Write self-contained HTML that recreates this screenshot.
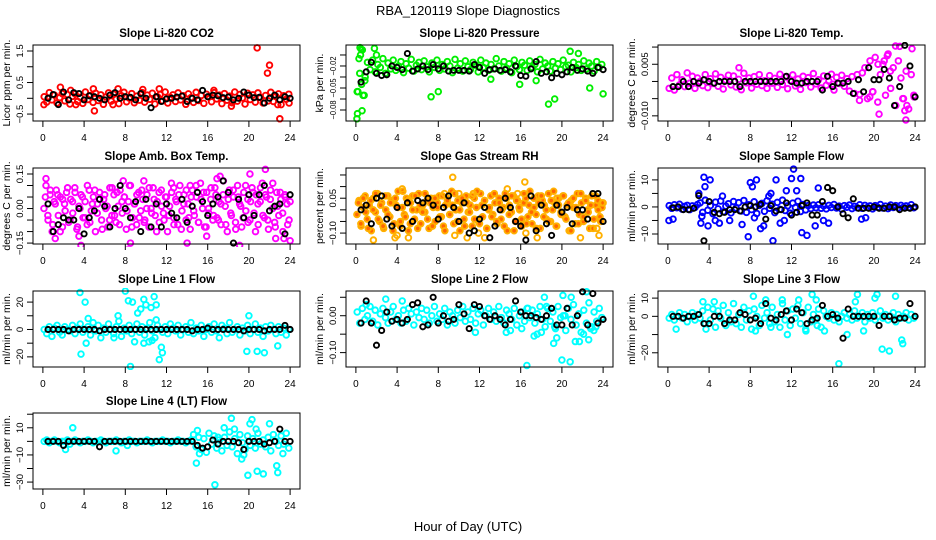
<!DOCTYPE html>
<html><head><meta charset="utf-8"><style>
body{margin:0;background:#fff;}
svg{display:block;font-family:"Liberation Sans",Arial,sans-serif;}
</style></head><body>
<svg id="chart" width="936" height="540" viewBox="0 0 936 540">
<rect x="0" y="0" width="936" height="540" fill="#fff"/>
<text x="468" y="15" text-anchor="middle" font-size="13">RBA_120119  Slope Diagnostics</text>
<text x="468" y="531" text-anchor="middle" font-size="13">Hour of Day (UTC)</text>
</svg>
<script>
const hourTicks=[0,4,8,12,16,20,24];
// CO2
const co2Band=[0.05,-0.12,0.18,-0.05,0.1,-0.15,0.02,0.15,-0.08,0.12,-0.18,0.06,0.14,-0.1,0.03,-0.16,0.2,-0.04,0.09,-0.13,0.16,-0.07,0.11,-0.19,0.04,0.17,-0.09,0.13,-0.02,-0.17,0.08,0.19,-0.11,0.01,0.15,-0.14,0.07,-0.06,0.18,-0.12,0.1,-0.03,0.16,-0.18,0.05,0.12,-0.08,0.2,-0.15,0.03,0.11,-0.1,0.17,-0.05,0.08,-0.19,0.14,0.02,-0.13,0.19,-0.07,0.09,-0.16,0.13,0.04,-0.11,0.18,-0.02,0.1,-0.17,0.15,-0.06,0.07,-0.14,0.2,-0.09,0.12,0.01,-0.18,0.16,-0.04,0.11,-0.12,0.17,0.03,-0.15,0.09,-0.08,0.19,-0.1,0.06,0.14,-0.2,0.08,-0.03,0.13];
const co2OutHours=[0.1,1.7,2.7,3.2,4.9,5.0,6.8,7.3,9.7,11.3,16.6,18.3,20.8,21.8,22.0,22.8,23.0,23.9];
const co2OutVals=[-0.2,0.35,0.25,-0.2,0.3,-0.4,-0.2,0.3,0.28,0.3,0.25,-0.25,1.6,0.8,1.05,-0.2,-0.65,-0.15];
const co2Black=[0.0,0.12,-0.2,0.2,-0.05,0.18,0.15,-0.05,0.08,0.05,0.0,-0.05,0.1,0.18,0.0,0.05,0.03,-0.05,0.15,0.0,-0.3,0.05,-0.1,-0.02,0.0,0.04,0.07,-0.1,0.0,-0.05,0.25,0.05,0.1,0.08,0.02,0.04,-0.05,0.0,0.2,0.1,0.02,0.03,-0.15,0.0,0.1,-0.05,0.05,0.0];
// Pressure
const presBand=[-0.055,-0.03,0.002,-0.04,-0.015,-0.025,-0.012,-0.028,-0.018,-0.022,-0.01,-0.03,-0.016,-0.024,-0.012,-0.026,-0.02,-0.014,-0.029,-0.017,-0.023,-0.011,-0.027,-0.019,-0.015,-0.025,-0.013,-0.021,-0.028,-0.016,-0.022,-0.012,-0.026,-0.018,-0.024,-0.014,-0.02,-0.029,-0.011,-0.023,-0.017,-0.027,-0.013,-0.021,-0.025,-0.015,-0.019,-0.028,-0.012,-0.022,-0.016,-0.026,-0.018,-0.024,-0.01,-0.02,-0.027,-0.014,-0.023,-0.017,-0.029,-0.012,-0.021,-0.025,-0.015,-0.019,-0.026,-0.013,-0.022,-0.018,-0.028,-0.011,-0.024,-0.016,-0.02,-0.027,-0.014,-0.023,-0.017,-0.025,-0.012,-0.021,-0.019,-0.028,-0.015,-0.022,-0.018,-0.026,-0.013,-0.024,-0.016,-0.02,-0.027,-0.014,-0.022,-0.018];
const presOutHours=[0.1,0.15,0.2,0.3,0.4,0.5,0.6,0.7,0.8,0.9,1.8,2.0,7.3,8.0,13.1,15.9,17.5,18.7,19.3,20.8,21.6,22.7,24.0,0.55,0.45];
const presOutVals=[-0.092,-0.085,-0.055,-0.01,0.005,0.003,-0.081,-0.06,-0.06,-0.035,0.004,-0.005,-0.062,-0.055,-0.038,-0.045,-0.04,-0.072,-0.065,0.0,-0.003,-0.05,-0.058,-0.045,-0.005];
const presBlack=[-0.042,-0.028,-0.015,-0.03,-0.033,-0.032,-0.02,-0.022,-0.025,-0.003,-0.027,-0.024,-0.02,-0.025,-0.018,-0.024,-0.02,-0.027,-0.026,-0.026,-0.026,-0.027,-0.018,-0.022,-0.03,-0.025,-0.024,-0.026,-0.025,-0.028,-0.02,-0.033,-0.034,-0.024,-0.014,-0.03,-0.028,-0.036,-0.03,-0.032,-0.028,-0.022,-0.026,-0.024,-0.027,-0.03,-0.022,-0.025];
// Temp
const tempBand=[-0.002,0.001,-0.0025,0.002,-0.001,0.0005,-0.0015,0.0025,-0.0005,0.0015,-0.002,0.001,0.0,-0.0012,0.002,-0.0018,0.0008,-0.0006,0.0022,-0.0014,0.0012,-0.0022,0.0004,0.0018,-0.001,0.0016,-0.0016,0.0006,-0.0024,0.0024,-0.0004,0.001,-0.0019,0.0014,-0.0008,0.002,-0.0012,0.0002,-0.002,0.0017,-0.0005,0.0009,-0.0017,0.0021,-0.0009,0.0013,-0.0021,0.0003,0.0019,-0.0013,0.0007,-0.0023,0.0015,-0.0003,0.0011,-0.0016,0.0023,-0.0007,0.0005,-0.0019,0.0016,-0.0011,0.0001,0.0021,-0.0025,0.0012,-0.0006,0.0018,-0.0014,0.0008,-0.0028,0.0014,-0.0035,0.002,-0.0038,0.0025,0.004,-0.005,0.006,-0.003,0.007,-0.006,0.002,0.005,-0.004,0.008,-0.002,0.004,-0.007,0.006,0.001,-0.005,0.003,-0.008,0.002,-0.004];
const tempOutHours=[6.9,16.0,18.6,19.6,20.4,20.5,21.0,21.3,21.6,22.1,22.5,23.0,23.1,23.2,23.7,23.9,19.9,22.8];
const tempOutVals=[0.004,-0.0008,-0.0055,-0.0045,0.005,-0.0095,0.006,0.0075,0.003,0.0103,0.0102,-0.0085,-0.0112,-0.007,0.0095,-0.0045,-0.003,-0.005];
const tempBlack=[-0.0015,-0.0015,0.0,-0.0015,0.0,-0.0005,0.0005,0.0,-0.0005,0.0,0.0,0.0,0.0,-0.0015,0.0,0.0,0.0,0.0,0.0,0.0,0.0,0.0,0.0015,0.0,-0.0005,-0.0005,0.0,0.0,0.0,-0.0025,0.0015,-0.0015,-0.0005,-0.0005,0.0,-0.0035,0.0005,-0.003,0.004,0.0005,0.0005,0.0035,0.001,-0.007,-0.0015,0.0105,0.0045,-0.0045];
// Amb box temp
const ambBand=[0.0,0.1,-0.05,0.06,-0.1,0.03,0.08,-0.03,0.05,-0.08,0.02,0.07,-0.06,0.04,-0.02,0.09,-0.09,0.01,0.06,-0.04,0.03,-0.07,0.08,-0.01,0.05,-0.1,0.02,0.07,-0.05,0.04,0.0,-0.08,0.09,-0.03,0.06,-0.06,0.01,0.08,-0.02,0.05,-0.09,0.03,0.1,-0.04,0.02,-0.07,0.07,-0.01,0.04,-0.05,0.06,-0.08,0.0,0.09,-0.03,0.03,-0.06,0.08,-0.02,0.05,-0.1,0.01,0.07,-0.04,0.04,-0.07,0.1,-0.01,0.06,-0.05,0.02,-0.09,0.08,-0.03,0.05,-0.06,0.11,0.0,-0.08,0.07,-0.02,0.04,-0.05,0.09,-0.04,0.03,-0.07,0.06,0.01,-0.1,0.08,-0.03,0.05,-0.06,0.1,0.02,-0.08,0.07,-0.01,0.04,-0.05,0.09,-0.02,0.06,-0.07,0.03,0.11,-0.04,0.05,-0.09,0.08,0.0,-0.06,0.07,-0.03,0.04,-0.1,0.06,0.02,-0.05];
const ambBandB=[0.05,-0.03,0.08,-0.07,0.02,0.06,-0.1,0.04,-0.01,0.09,-0.05,0.03,0.07,-0.08,0.0,0.05,-0.04,0.1,-0.06,0.02,0.08,-0.02,0.04,-0.09,0.06,0.01,-0.05,0.09,-0.03,0.07,-0.07,0.03,0.05,-0.01,0.1,-0.08,0.02,0.06,-0.04,0.08,-0.06,0.0,0.09,-0.02,0.04,-0.1,0.07,0.01,-0.05,0.05,-0.03,0.11,-0.07,0.03,0.06,-0.09,0.02,0.08,-0.04,0.05,-0.01,0.1,-0.06,0.04,0.07,-0.08,0.0,0.09,-0.03,0.06,-0.05,0.02,0.12,-0.07,0.04,-0.02,0.08,-0.09,0.05,0.01,-0.04,0.1,-0.06,0.03,0.07,-0.1,0.02,0.09,-0.03,0.06,-0.05,0.04,0.11,-0.08,0.01,0.07,-0.02,0.05,-0.07,0.03];
const ambOutHours=[0.3,1.2,3.5,3.7,7.8,8.2,8.5,9.8,14.0,14.3,15.9,16.9,17.2,19.1,20.1,21.6,22.6,23.4,24.0,4.5,12.7];
const ambOutVals=[0.13,-0.13,-0.12,-0.16,0.12,-0.18,-0.15,0.12,-0.15,0.1,-0.12,0.13,0.14,-0.16,0.15,0.17,-0.13,-0.13,-0.14,0.08,0.09];
const ambBlack=[0.02,-0.1,-0.07,-0.04,-0.05,-0.05,0.0,-0.11,-0.04,-0.01,0.04,0.01,-0.08,0.0,0.1,0.0,-0.04,0.03,-0.1,0.04,-0.08,0.02,-0.08,0.02,-0.02,-0.04,0.04,-0.06,0.01,0.07,0.03,-0.03,0.02,0.05,0.12,0.07,-0.15,0.04,-0.04,0.06,-0.03,0.06,0.1,-0.01,0.01,0.02,-0.11,0.06];
// RH
const rhBand=[-0.02,0.04,-0.07,0.01,0.06,-0.04,0.02,-0.09,0.05,-0.01,0.07,-0.05,0.03,-0.08,0.0,0.06,-0.03,0.04,-0.06,0.02,0.08,-0.07,0.01,-0.02,0.05,-0.09,0.03,0.06,-0.04,0.0,0.07,-0.06,0.02,-0.01,0.04,-0.08,0.05,0.01,-0.05,0.03,0.06,-0.03,-0.07,0.02,0.05,-0.02,0.08,-0.06,0.0,0.04,-0.09,0.03,-0.04,0.06,-0.01,0.02,-0.07,0.05,0.01,-0.05,0.07,-0.03,0.04,-0.08,0.0,0.06,-0.02,0.03,-0.06,0.05,-0.04,0.01,0.07,-0.09,0.02,-0.01,0.06,-0.05,0.04,0.0,-0.07,0.03,0.05,-0.03,0.08,-0.06,0.01,-0.02,0.06,-0.08,0.04,0.02,-0.04,0.07,-0.05,0.0,0.03,-0.07,0.05,-0.01,0.06,-0.03,0.02,-0.09,0.04,0.01,-0.06,0.07,-0.02,0.03,-0.05,0.05,0.0,-0.08,0.06,-0.04,0.02,0.04,-0.03,0.01];
const rhBandB=[0.03,-0.06,0.05,-0.01,-0.08,0.04,0.0,0.07,-0.04,0.02,-0.07,0.06,-0.02,0.03,-0.09,0.05,0.01,-0.05,0.08,-0.03,0.04,-0.06,0.0,0.06,-0.08,0.02,-0.01,0.07,-0.04,0.03,-0.07,0.05,0.01,-0.03,0.06,-0.09,0.04,-0.02,0.02,0.07,-0.05,0.0,0.05,-0.07,0.03,-0.01,0.06,-0.04,0.08,-0.06,0.02,0.04,-0.08,0.01,-0.03,0.07,-0.05,0.03,0.0,-0.07,0.05,-0.02,0.06,-0.09,0.04,0.01,-0.04,0.07,-0.06,0.02,-0.01,0.05,-0.08,0.03,0.06,-0.03,0.0,-0.05,0.04,0.08,-0.07,0.02,-0.02,0.06,-0.04,0.03,-0.09,0.05,0.01,-0.06,0.07,-0.03,0.04,-0.01,0.02,-0.08,0.06,0.0,-0.05,0.03];
const rhOutHours=[1.7,3.8,4.0,4.5,5.1,8.6,9.4,9.6,10.0,10.8,11.4,12.5,14.7,15.7,16.4,16.5,17.6,19.5,21.8,23.4,23.6,23.9,11.9];
const rhOutVals=[-0.13,-0.12,-0.11,0.09,-0.12,0.07,0.14,-0.11,0.07,-0.12,0.07,-0.12,0.09,0.07,0.12,-0.1,-0.12,0.05,-0.12,-0.08,-0.11,0.03,-0.1];
const rhBlack=[0.0,0.02,-0.06,0.05,0.06,-0.04,-0.07,0.01,-0.08,0.03,-0.05,0.04,0.03,0.05,0.02,-0.04,0.01,0.06,0.01,-0.05,0.03,-0.1,-0.09,-0.04,0.01,-0.12,-0.07,0.0,0.05,0.01,-0.05,-0.07,-0.13,0.06,-0.09,0.02,-0.06,-0.11,0.02,-0.01,0.01,-0.06,0.0,0.0,-0.04,0.07,0.07,-0.05];
// Sample flow
const sfBand=[0.5,-0.5,0.8,-0.3,1.0,-0.8,0.2,0.6,-1.0,0.4,-0.2,0.9,1.5,-2,2.5,-1.2,0.5,-2.5,1.8,-0.7,2.2,-1.8,0.3,1.2,-2.2,2.0,-0.4,1.6,-1.5,2.4,-2.0,0.8,-1.0,1.9,-2.4,0.6,1.3,-1.6,2.3,-0.5,1.0,-2.1,1.7,-0.9,2.5,-1.3,0.4,-2.3,1.4,-0.2,2.1,-1.7,0.9,-1.1,0.5,-0.6,0.7,-0.3,0.8,-0.5,0.4,-0.7,0.6,-0.2,0.9,-0.4,0.3,-0.8,0.5,-0.1,0.7,-0.6,0.2,-0.3,0.8,-0.5,0.6,-0.2,0.4,-0.7,0.5,-0.1,0.9,-0.4,0.3,-0.6,0.7,-0.2,0.5,-0.3,0.6,-0.1,0.4,-0.2,0.8,-0.3];
const sfOutHours=[0.1,0.5,3.0,3.3,3.5,3.6,3.9,4.1,4.6,5.0,5.3,6.0,7.2,7.8,8.0,8.2,8.4,8.6,9.0,9.3,9.8,10.2,10.5,10.9,11.3,11.5,12.0,12.2,12.5,12.9,13.0,13.5,14.3,14.6,15.1,15.6,18.8,19.2,3.2,10.0];
const sfOutVals=[-5,-4.5,5,-3.5,11,7.5,-7,10,-5,-6,4,-5,-6.5,-11,9,7.5,-4,10,-8,-7,4,-12.5,10,-6,-5,6,10.5,14,6,10.5,-9.5,-10.5,-7,7,-5,-6,-4.5,-4,-6,5];
const sfBlack=[-0.3,0,-1,-1,-0.5,4.2,-12.5,2,-2,-2.5,-2,-1,-1,-1.5,0,0.5,0,1,-4.5,0.5,-1.5,-1,1.5,-3,-2,0.5,1.5,-3,-3,2,7.2,6,0,-2.5,-4,3,-0.5,-0.5,-0.5,0,-0.5,-0.5,0,0,-1,-0.5,-0.5,0];
// Line 1
const l1Band=[0,-3,2,-5,1,3,-2,-4,2,0,-1,3,-3,1,4,-2,0,2,-4,5,-1,3,-6,1,-2,4,0,-3,2,6,-5,1,-1,3,-3,0,4,-2,2,-4,1,5,-1,-6,3,0,-2,2,-3,4,1,-1,3,-4,0,2,-2,5,-3,1,-1,3,-5,0,2,-2,4,-1,-6,3,1,-3,5,-2,0,2,-4,1,-1,3,-3,0,4,-2,1,-5,2,-1,3,0,-3,2,-2,1,-4,0];
const l1OutHours=[3.6,4.1,4.2,3.7,4.4,6.9,7.3,8.0,8.3,8.5,8.7,8.9,9.2,9.5,9.8,10.0,10.3,10.5,10.8,11.0,11.3,11.5,11.6,11.0,19.8,20.0,20.8,21.5,22.8,9.8,10.6];
const l1OutVals=[27,20,-10,-18,8,-6,10,28,21,-27,20,-9,12,15,22,18,-9,16,24,18,-22,-13,-17,7,-16,10,-16,-17,-12,-10,-8];
const l1Black=[0,0,0,0,-1,0,0,0,0,0,-1,0,0,0,0,0,0,0,0,0,0,0,0,0,0,0,0,0,-1,0,0,1,0,0,0,0,0,0,-1,0,0,0,-1,0,0,0,3,0];
// Line 2
const l2Band=[0.01,-0.02,0.02,-0.01,0.0,0.025,-0.015,0.015,-0.025,0.005,0.02,-0.005,-0.02,0.01,0.025,-0.01,0.0,-0.02,0.015,-0.015,0.02,0.005,-0.025,0.01,-0.005,0.02,-0.01,0.015,-0.02,0.0,0.025,-0.015,0.005,-0.01,0.02,-0.025,0.01,0.0,-0.02,0.015,-0.005,0.025,-0.015,0.01,-0.01,0.02,-0.02,0.005,0.015,-0.025,0.0,0.02,-0.01,0.01,-0.015,0.025,-0.005,-0.02,0.015,0.005,-0.01,0.02,-0.025,0.0,0.01,-0.015,0.02,-0.005,0.015,-0.02,0.005,0.025,-0.01,-0.03,0.02,-0.015,0.01,-0.035,0.025,-0.005,0.0,-0.04,0.02,-0.01,0.03,-0.025,0.005,-0.045,0.015,-0.02,0.035,-0.03,0.01,-0.015,0.02,-0.005];
const l2OutHours=[1.0,2.9,4.5,11.6,14.6,15.0,16.1,16.6,17.3,17.6,18.0,18.3,18.5,19.2,19.3,19.5,20.0,20.1,20.3,20.8,20.9,21.3,21.7,22.1,22.4,22.6,22.8,23.1,23.3,16.7];
const l2OutVals=[0.03,0.045,0.04,-0.045,-0.045,-0.04,-0.035,-0.135,-0.055,-0.05,-0.045,0.05,0.025,-0.075,-0.03,-0.06,-0.12,0.055,0.0,-0.125,0.05,-0.07,-0.07,-0.05,0.065,-0.065,-0.035,-0.04,-0.03,0.02];
const l2Black=[-0.02,0.04,-0.02,-0.08,-0.04,0.01,-0.015,-0.01,-0.02,-0.01,0.03,0.035,-0.03,-0.025,0.05,-0.02,0.0,-0.015,-0.01,0.03,0.005,-0.035,0.03,0.025,0.0,-0.01,0.0,-0.01,-0.025,-0.01,0.04,0.01,0.0,0.0,-0.005,-0.01,0.0,0.02,-0.025,-0.025,0.02,-0.025,0.0,0.065,-0.025,0.06,-0.02,-0.01];
// Line 3
const l3Band=[-1,1,-2,0,2,-1,1,-3,0,2,-2,1,-1,3,-4,5,-2,4,-6,3,-1,6,-5,2,-3,7,-4,1,-6,5,-2,3,-7,4,0,-5,6,-1,2,-4,5,-3,1,-6,7,-2,3,-5,4,-1,6,-4,2,-7,5,-3,1,-2,4,-6,3,0,-1,2,-2,1,-3,0,2,-1,1,-2,3,-1,0,2,-3,1,-1,2,-2,0,3,-1,1,-2,0,2,-3,1,-1,0,2,-2,1,-1];
const l3OutHours=[0.8,3.4,3.7,4.5,8.3,8.5,9.5,10.0,11.1,11.6,12.7,13.4,14.0,14.4,14.5,16.6,17.4,18.4,19.0,20.1,20.3,20.8,21.5,22.1,22.7,22.8,18.2,15.2];
const l3OutVals=[-7,8,-7,8,11,-8,9,-6,9,-10,9,-8,12,9,-5,-26,-10,12,-8,10,12,-18,-19,11,-13,-15,8,-8];
const l3Black=[0,0,-1,0,0,1,-4,-4,0,0,-4,-2,-2,2,1,-2,-1,-4,7,-1,-2,1,3,-2,4,2,-4,-2,-1,6,0,1,-1,-12,4,0,0,0,0,0,-5,0,0,-2,-1,-1,7,0];
// Line 4
const l4Band=[0,1,-1,0,1,0,-1,0,0,1,-2,0,1,0,-1,0,0,1,0,-1,0,0,1,0,-1,0,0,0,1,0,-1,0,0,1,0,0,-1,0,0,0,1,0,-1,0,0,0,1,0,0,-1,0,0,1,0,0,-1,0,1,5,-4,3,-6,2,-8,6,-2,4,-5,1,-7,3,-3,7,-4,2,-9,5,-1,-6,4,-3,2,-5,6,-2,1,-4,3,-7,5,0,-3,4,-2,6,-5];
const l4OutHours=[2.9,2.2,7.1,8.2,14.9,15.0,15.2,17.6,18.3,18.6,19.3,19.5,19.9,20.1,20.3,20.8,20.7,21.4,22.0,22.7,22.8,23.3,16.7,17.0];
const l4OutVals=[10,-6,-7,-3,-16,8,-9,10,17,9,-13,-10,-25,13,16,-22,9,-24,13,-18,-23,-9,-32,3];
const l4Black=[0,0,0,-3,0,0,0,0,0,0,-4,0,0,0,0,0,0,0,0,0,0,0,0,0,0,0,0,0,0,-3,-5,-4,1,-2,0,0,0,-1,-6,0,0,0,-2,-1,0,9,0,0];

const NS="http://www.w3.org/2000/svg";
const svg=document.getElementById('chart');
function mk(tag,attrs,parent){const e=document.createElementNS(NS,tag);for(const k in attrs)e.setAttribute(k,attrs[k]);(parent||svg).appendChild(e);return e;}

const colL=[33,346,658], rowT=[45,168,291,413], boxW=267, boxH=76;
const panels=[
 {name:'co2',title:'Slope Li-820 CO2',ylab:'Licor ppm per min.',c:0,r:0,yTop:1.69,yBot:-0.72,ticks:[-0.5,0,0.5,1,1.5],labels:['-0.5','','0.5','','1.5'],col:'#ff0000',fill:'none',bands:[co2Band],oh:co2OutHours,ov:co2OutVals,blk:co2Black},
 {name:'pressure',title:'Slope Li-820 Pressure',ylab:'kPa per min.',c:1,r:0,yTop:0.0086,yBot:-0.095,ticks:[-0.08,-0.065,-0.05,-0.035,-0.02,-0.005],labels:['-0.08','','-0.05','','-0.02',''],col:'#00ee00',fill:'none',bands:[presBand],oh:presOutHours,ov:presOutVals,blk:presBlack,fs:8,tl:19},
 {name:'temp',title:'Slope Li-820 Temp.',ylab:'degrees C per min.',c:2,r:0,yTop:0.0106,yBot:-0.0115,ticks:[-0.01,-0.005,0,0.005,0.01],labels:['-0.010','','','0.005',''],col:'#ff00ff',fill:'none',bands:[tempBand],oh:tempOutHours,ov:tempOutVals,blk:tempBlack},
 {name:'amb-box-temp',title:'Slope Amb. Box Temp.',ylab:'degrees C per min.',c:0,r:1,yTop:0.176,yBot:-0.154,ticks:[-0.15,-0.1,-0.05,0,0.05,0.1,0.15],labels:['-0.15','','','0.00','','','0.15'],col:'#ff00ff',fill:'none',bands:[ambBand,ambBandB],oh:ambOutHours,ov:ambOutVals,blk:ambBlack},
 {name:'gas-stream-rh',title:'Slope Gas Stream RH',ylab:'percent per min.',c:1,r:1,yTop:0.18,yBot:-0.147,ticks:[-0.1,-0.05,0,0.05,0.1,0.15],labels:['-0.10','','','0.05','',''],col:'#ffb000',fill:'#ff6600',bands:[rhBand,rhBandB],oh:rhOutHours,ov:rhOutVals,blk:rhBlack},
 {name:'sample-flow',title:'Slope Sample Flow',ylab:'ml/min per min.',c:2,r:1,yTop:14.4,yBot:-13.7,ticks:[-10,-5,0,5,10],labels:['-10','','0','','10'],col:'#0000ff',fill:'none',bands:[sfBand],oh:sfOutHours,ov:sfOutVals,blk:sfBlack},
 {name:'line1-flow',title:'Slope Line 1 Flow',ylab:'ml/min per min.',c:0,r:2,yTop:28.1,yBot:-27.4,ticks:[-20,-10,0,10,20],labels:['-20','','0','','20'],col:'#00ffff',fill:'none',bands:[l1Band],oh:l1OutHours,ov:l1OutVals,blk:l1Black},
 {name:'line2-flow',title:'Slope Line 2 Flow',ylab:'ml/min per min.',c:1,r:2,yTop:0.067,yBot:-0.139,ticks:[-0.1,-0.05,0,0.05],labels:['-0.10','','0.00',''],col:'#00ffff',fill:'none',bands:[l2Band],oh:l2OutHours,ov:l2OutVals,blk:l2Black},
 {name:'line3-flow',title:'Slope Line 3 Flow',ylab:'ml/min per min.',c:2,r:2,yTop:13.9,yBot:-27.8,ticks:[-20,-10,0,10],labels:['-20','','0','10'],col:'#00ffff',fill:'none',bands:[l3Band],oh:l3OutHours,ov:l3OutVals,blk:l3Black},
 {name:'line4-flow',title:'Slope Line 4 (LT) Flow',ylab:'ml/min per min.',c:0,r:3,yTop:20.9,yBot:-35.1,ticks:[-30,-20,-10,0,10,20],labels:['-30','','-10','','10',''],col:'#00ffff',fill:'none',bands:[l4Band],oh:l4OutHours,ov:l4OutVals,blk:l4Black}
];

panels.forEach((p,pi)=>{
  const L=colL[p.c], T=rowT[p.r], R=L+boxW, B=T+boxH;
  const xs=h=>L+(h+0.96)/25.92*boxW;
  const ys=v=>T+(p.yTop-v)/(p.yTop-p.yBot)*boxH;
  const g=mk('g',{});
  
  
  const clip=mk('clipPath',{id:'clip'+pi},g);
  mk('rect',{x:L-3,y:T-3,width:boxW+6,height:boxH+6},clip);
  const t=mk('text',{x:(L+R)/2,y:T-8,'text-anchor':'middle','font-size':'11.5','font-weight':'bold'},g);
  t.textContent=p.title;
  
  
  const pts=mk('g',{'clip-path':'url(#clip'+pi+')'},g);
  
  
  p.bands.forEach((arr,bi)=>{
    arr.forEach((v,i)=>{
      const h=(i+0.5+bi*0.5)*24/arr.length;
      const c=mk('circle',{cx:xs(h),cy:ys(v),r:2.8,fill:p.fill,stroke:p.col,'stroke-width':1.9},pts);
      
      
    });
  });
  p.oh.forEach((h,i)=>{
    const c=mk('circle',{cx:xs(h),cy:ys(p.ov[i]),r:2.8,fill:'none',stroke:p.col,'stroke-width':1.9},pts);
    
    
  });
  p.blk.forEach((v,i)=>{
    const c=mk('circle',{cx:xs((i+1)*0.5),cy:ys(v),r:2.6,fill:'none',stroke:'#000','stroke-width':1.9},pts);
    
    
  });
  const box=mk('rect',{x:L,y:T,width:boxW,height:boxH,fill:'none',stroke:'#000','stroke-width':1},g);
  
  
  hourTicks.forEach(h=>{
    mk('line',{x1:xs(h),x2:xs(h),y1:B,y2:B+6,stroke:'#000'},g);
    const tx=mk('text',{x:xs(h),y:B+20,'text-anchor':'middle','font-size':'10'},g);
    tx.textContent=h;
    
    
  });
  p.ticks.forEach((v,i)=>{
    const y=ys(v);
    mk('line',{x1:L-6,x2:L,y1:y,y2:y,stroke:'#000'},g);
    if(p.labels[i]){
      const at={x:0,y:0,'text-anchor':'middle','font-size':String(p.fs||9.5),transform:`translate(${L-10},${y}) rotate(-90)`};
      if(p.tl){at.textLength=p.tl;at.lengthAdjust='spacingAndGlyphs';}
      const ty=mk('text',at,g);
      ty.textContent=p.labels[i].replace('-','\u2212');
      
      
    }
  });
  const yl=mk('text',{x:0,y:0,'text-anchor':'middle','font-size':'10.5',transform:`translate(${L-23},${(T+B)/2}) rotate(-90)`},g);
  yl.textContent=p.ylab;
  
  
});
</script>
</body></html>
